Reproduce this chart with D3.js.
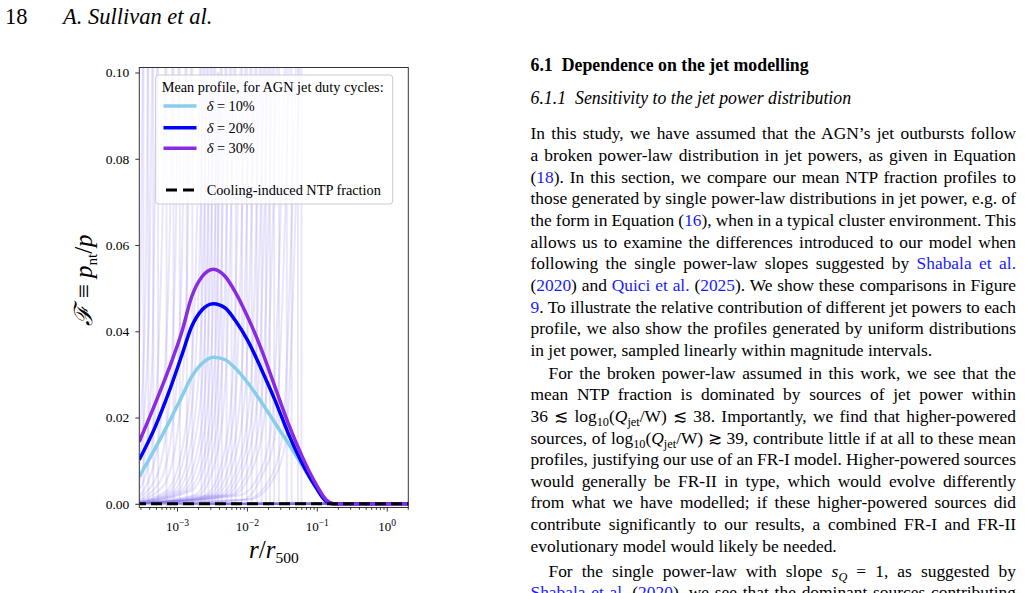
<!DOCTYPE html>
<html>
<head>
<meta charset="utf-8">
<script src="https://cdn.jsdelivr.net/npm/d3@7"></script>
<style>
  body { margin: 0; background: #fff; }
  svg { display: block; }
  text { font-family: "Liberation Serif", "Times New Roman", serif; white-space: pre; }
</style>
</head>
<body>
<svg id="page" width="1025" height="593"></svg>
<script>
// ---- data (x values are log10(r/r500)) ----
const radiusLog = [-3.54, -3.31, -3.12, -2.93, -2.79, -2.64, -2.48, -2.31, -2.17, -1.98, -1.79, -1.60, -1.41, -1.21, -1.02, -0.86, -0.76, 0.31];
const duty10 = [0.0063, 0.0129, 0.0187, 0.0249, 0.0295, 0.0326, 0.0340, 0.0334, 0.0315, 0.0279, 0.0235, 0.0188, 0.0141, 0.0089, 0.0040, 0.0008, 0, 0];
const duty20 = [0.0102, 0.0179, 0.0257, 0.0345, 0.0411, 0.0450, 0.0464, 0.0454, 0.0426, 0.0376, 0.0311, 0.0241, 0.0164, 0.0094, 0.0040, 0.0005, 0, 0];
const duty30 = [0.0144, 0.0233, 0.0311, 0.0399, 0.0480, 0.0527, 0.0544, 0.0527, 0.0492, 0.0430, 0.0357, 0.0272, 0.0187, 0.0110, 0.0048, 0.0008, 0, 0];
const coolingLog = [-3.6, 0.35];
const coolingNTP = [0, 0];

// individual source profiles (faint lines), each ends at its lobe edge
const sourceProfiles = [
  [[-3.6, 0.02], [-3.52, 0.05], [-3.48, 0.12]],
  [[-3.6, 0.008], [-3.5, 0.025], [-3.44, 0.06], [-3.41, 0.12]],
  [[-3.6, 0.005], [-3.5, 0.015], [-3.4, 0.045], [-3.34, 0.12]],
  [[-3.6, 0.003], [-3.45, 0.012], [-3.35, 0.035], [-3.27, 0.12]],
  [[-3.6, 0.002], [-3.4, 0.01], [-3.28, 0.03], [-3.19, 0.08], [-3.15, 0.12]],
  [[-3.6, 0.001], [-3.35, 0.008], [-3.2, 0.025], [-3.1, 0.065], [-3.05, 0.12]],
  [[-3.6, 0.001], [-3.3, 0.006], [-3.12, 0.022], [-3.02, 0.06], [-2.96, 0.12]],
  [[-3.6, 0.0006], [-3.25, 0.005], [-3.05, 0.02], [-2.93, 0.055], [-2.86, 0.12]],
  [[-3.6, 0.0005], [-3.2, 0.004], [-2.98, 0.018], [-2.86, 0.05], [-2.78, 0.12]],
  [[-3.6, 0.0004], [-3.15, 0.003], [-2.9, 0.015], [-2.75, 0.045], [-2.65, 0.12]],
  [[-3.6, 0.0003], [-3.1, 0.003], [-2.85, 0.015], [-2.7, 0.045], [-2.6, 0.12]],
  [[-3.6, 0.0003], [-3.05, 0.003], [-2.8, 0.014], [-2.65, 0.042], [-2.55, 0.12]],
  [[-3.6, 0.0002], [-3.0, 0.003], [-2.75, 0.014], [-2.6, 0.04], [-2.5, 0.12]],
  [[-3.6, 0.0002], [-2.95, 0.003], [-2.7, 0.013], [-2.55, 0.04], [-2.45, 0.12]],
  [[-3.6, 0.0002], [-2.9, 0.003], [-2.65, 0.013], [-2.5, 0.038], [-2.41, 0.10]],
  [[-3.6, 0.0001], [-2.85, 0.003], [-2.6, 0.012], [-2.45, 0.036], [-2.36, 0.12]],
  [[-3.6, 0.0001], [-2.8, 0.003], [-2.55, 0.012], [-2.4, 0.035], [-2.29, 0.12]],
  [[-3.6, 0.0001], [-2.75, 0.002], [-2.5, 0.011], [-2.35, 0.033], [-2.22, 0.12]],
  [[-3.6, 0.0001], [-2.7, 0.002], [-2.45, 0.01], [-2.3, 0.03], [-2.16, 0.12]],
  [[-3.6, 0], [-2.6, 0.002], [-2.35, 0.01], [-2.2, 0.03], [-2.07, 0.12]],
  [[-3.6, 0], [-2.55, 0.002], [-2.3, 0.01], [-2.15, 0.028], [-2.0, 0.12]],
  [[-3.6, 0], [-2.5, 0.002], [-2.25, 0.009], [-2.08, 0.028], [-1.93, 0.12]],
  [[-3.6, 0], [-2.45, 0.002], [-2.2, 0.009], [-2.02, 0.027], [-1.86, 0.12]],
  [[-3.6, 0], [-2.4, 0.002], [-2.15, 0.008], [-1.95, 0.026], [-1.79, 0.12]],
  [[-3.6, 0], [-2.35, 0.002], [-2.1, 0.008], [-1.9, 0.025], [-1.73, 0.12]],
  [[-3.6, 0], [-2.3, 0.002], [-2.05, 0.008], [-1.85, 0.024], [-1.67, 0.12]],
  [[-3.6, 0], [-2.25, 0.002], [-2.0, 0.007], [-1.8, 0.022], [-1.61, 0.12]],
  [[-3.6, 0], [-2.2, 0.002], [-1.95, 0.007], [-1.75, 0.02], [-1.54, 0.12]],
  [[-3.6, 0], [-2.1, 0.002], [-1.85, 0.006], [-1.65, 0.018], [-1.43, 0.12]],
  [[-3.6, 0], [-2.05, 0.001], [-1.8, 0.006], [-1.6, 0.016], [-1.36, 0.12]],
  [[-3.6, 0], [-2.0, 0.001], [-1.7, 0.005], [-1.5, 0.015], [-1.27, 0.12]],
  [[-3.6, 0], [-1.95, 0.001], [-1.65, 0.005], [-1.45, 0.014], [-1.22, 0.12]]
];

const yTicks = [0, 0.02, 0.04, 0.06, 0.08, 0.10];
const xTickExp = [-3, -2, -1, 0];
const legendTitle = "Mean profile, for AGN jet duty cycles:";
const legendLabels = ["10%", "20%", "30%"];
const legendColors = ["#87ceeb", "#0000ff", "#8a2be2"];

// ---- body text of the page (one entry per printed line) ----
const bodyLines = [
  { segs: ["In this study, we have assumed that the AGN\u2019s jet outbursts follow"] },
  { segs: ["a broken power-law distribution in jet powers, as given in Equation"] },
  { segs: ["(", ["a", "18"], "). In this section, we compare our mean NTP fraction profiles to"] },
  { segs: ["those generated by single power-law distributions in jet power, e.g. of"] },
  { segs: ["the form in Equation (", ["a", "16"], "), when in a typical cluster environment. This"] },
  { segs: ["allows us to examine the differences introduced to our model when"] },
  { segs: ["following the single power-law slopes suggested by ", ["a", "Shabala et al."]] },
  { segs: ["(", ["a", "2020"], ") and ", ["a", "Quici et al."], " (", ["a", "2025"], "). We show these comparisons in Figure"] },
  { segs: [["a", "9"], ". To illustrate the relative contribution of different jet powers to each"] },
  { segs: ["profile, we also show the profiles generated by uniform distributions"] },
  { segs: ["in jet power, sampled linearly within magnitude intervals."], last: true },
  { segs: ["For the broken power-law assumed in this work, we see that the"], indent: true },
  { segs: ["mean NTP fraction is dominated by sources of jet power within"] },
  { segs: ["36 \u2272 log", ["sub", "10"], "(", ["it", "Q"], ["sub", "jet"], "/W) \u2272 38. Importantly, we find that higher-powered"] },
  { segs: ["sources, of log", ["sub", "10"], "(", ["it", "Q"], ["sub", "jet"], "/W) \u2273 39, contribute little if at all to these mean"] },
  { segs: ["profiles, justifying our use of an FR-I model. Higher-powered sources"] },
  { segs: ["would generally be FR-II in type, which would evolve differently"] },
  { segs: ["from what we have modelled; if these higher-powered sources did"] },
  { segs: ["contribute significantly to our results, a combined FR-I and FR-II"] },
  { segs: ["evolutionary model would likely be needed."], last: true },
  { segs: ["For the single power-law with slope ", ["it", "s"], ["itsub", "Q"], " = 1, as suggested by"], indent: true },
  { segs: [["a", "Shabala et al."], " (", ["a", "2020"], "), we see that the dominant sources contributing"] }
];
const bodyBaselines = [139.3, 160.9, 182.6, 204.2, 225.9, 247.6, 269.2, 290.9, 312.5, 334.2, 355.8,
  378.5, 400.2, 421.8, 443.5, 465.1, 486.8, 508.4, 530.1, 551.7, 576.5, 598.2];

const page = d3.select("#page");

// ---- running header ----
page.append("text").attr("x", 5).attr("y", 23.5).attr("font-size", 22.5).text("18");
page.append("text").attr("x", 63).attr("y", 23.5).attr("font-size", 22.5).attr("font-style", "italic").text("A. Sullivan et al.");

// ---- chart ----
const frame = { left: 139.3, right: 408.3, top: 67.5, bottom: 507.5 };

const x = d3.scaleLog()
  .domain([Math.pow(10, -3.539), Math.pow(10, 0.3086)])
  .range([frame.left, frame.right]);
const y = d3.scaleLinear()
  .domain([-0.000858, 0.10116])
  .range([frame.bottom, frame.top]);

page.append("clipPath").attr("id", "plotClip")
  .append("rect")
  .attr("x", frame.left).attr("y", frame.top)
  .attr("width", frame.right - frame.left).attr("height", frame.bottom - frame.top);

const plot = page.append("g").attr("clip-path", "url(#plotClip)");

const smooth = d3.line()
  .x(d => x(Math.pow(10, d[0])))
  .y(d => y(d[1]))
  .curve(d3.curveMonotoneX);
const straight = d3.line()
  .x(d => x(Math.pow(10, d[0])))
  .y(d => y(d[1]));

// faint individual profiles
sourceProfiles.forEach(p => {
  const edge = p[p.length - 1];
  plot.append("path")
    .attr("d", smooth(p))
    .attr("fill", "none")
    .attr("stroke", "#7b68ee")
    .attr("stroke-opacity", 0.17)
    .attr("stroke-width", 2);
  plot.append("path")
    .attr("d", straight([edge, [edge[0], 0], [0.35, 0]]))
    .attr("fill", "none")
    .attr("stroke", "#7b68ee")
    .attr("stroke-opacity", 0.17)
    .attr("stroke-width", 2);
});

// mean profiles
[duty10, duty20, duty30].forEach((series, i) => {
  plot.append("path")
    .datum(radiusLog.map((r, j) => [r, series[j]]))
    .attr("d", smooth)
    .attr("fill", "none")
    .attr("stroke", legendColors[i])
    .attr("stroke-width", 3.5)
    .attr("stroke-linejoin", "round");
});

// cooling-induced NTP fraction
plot.append("path")
  .datum(coolingLog.map((r, j) => [r, coolingNTP[j]]))
  .attr("d", straight)
  .attr("fill", "none")
  .attr("stroke", "#000")
  .attr("stroke-width", 3)
  .attr("stroke-dasharray", "11,5");

// axes
const yAxis = page.append("g")
  .attr("transform", `translate(${frame.left},0)`)
  .call(d3.axisLeft(y).tickValues(yTicks).tickFormat(d3.format(".2f")).tickSize(4).tickPadding(6));
yAxis.select(".domain").remove();
yAxis.selectAll(".tick text").attr("font-size", 13.5).attr("font-family", "Liberation Serif, serif").attr("fill", "#000");

const xAxis = page.append("g")
  .attr("transform", `translate(0,${frame.bottom})`)
  .call(d3.axisBottom(x).tickValues(xTickExp.map(e => Math.pow(10, e))).tickSize(4).tickPadding(4).tickFormat(() => ""));
xAxis.select(".domain").remove();
xAxis.selectAll(".tick text")
  .attr("font-size", 13)
  .attr("font-family", "Liberation Serif, serif")
  .attr("fill", "#000")
  .attr("dy", "1.2em")
  .each(function (d, i) {
    const t = d3.select(this);
    t.append("tspan").text("10");
    const e = xTickExp[i];
    t.append("tspan").attr("dy", -5.5).attr("font-size", 9.5).text(e < 0 ? "\u2212" + Math.abs(e) : String(e));
  });

const minorTicks = [];
for (let e = -4; e <= 0; e++) {
  for (let m = 2; m <= 9; m++) {
    const v = m * Math.pow(10, e);
    if (v > x.domain()[0] && v < x.domain()[1]) minorTicks.push(v);
  }
}
const xMinor = page.append("g")
  .attr("transform", `translate(0,${frame.bottom})`)
  .call(d3.axisBottom(x).tickValues(minorTicks).tickSize(2.3).tickFormat(() => ""));
xMinor.select(".domain").remove();
page.selectAll(".tick line").attr("stroke", "#000").attr("stroke-width", 0.8);

// frame
page.append("rect")
  .attr("x", frame.left).attr("y", frame.top)
  .attr("width", frame.right - frame.left).attr("height", frame.bottom - frame.top)
  .attr("fill", "none").attr("stroke", "#333").attr("stroke-width", 1);

// axis labels
const xLabel = page.append("text")
  .attr("x", (frame.left + frame.right) / 2).attr("y", 557.5)
  .attr("text-anchor", "middle").attr("font-size", 25);
xLabel.append("tspan").attr("font-style", "italic").text("r");
xLabel.append("tspan").text("/");
xLabel.append("tspan").attr("font-style", "italic").text("r");
xLabel.append("tspan").attr("font-size", 15.5).attr("dy", 5).text("500");

const yLabel = page.append("text")
  .attr("transform", "translate(92,280) rotate(-90)")
  .attr("text-anchor", "middle").attr("font-size", 25);
yLabel.append("tspan").attr("font-style", "italic").text("\u2131");
yLabel.append("tspan").text(" \u2261 ");
yLabel.append("tspan").attr("font-style", "italic").text("p");
yLabel.append("tspan").attr("font-size", 15).attr("dy", 5).text("nt");
yLabel.append("tspan").attr("dy", -5).text("/");
yLabel.append("tspan").attr("font-style", "italic").text("p");

// legend
const legend = page.append("g");
legend.append("rect")
  .attr("x", 155.7).attr("y", 75).attr("width", 237).attr("height", 129).attr("rx", 3)
  .attr("fill", "#fff").attr("fill-opacity", 0.8)
  .attr("stroke", "#ccc").attr("stroke-width", 1);
legend.append("text").attr("x", 161.7).attr("y", 91.5).attr("font-size", 14.3).text(legendTitle);
const rowY = [106, 127.7, 148.3];
legendLabels.forEach((lab, i) => {
  legend.append("line")
    .attr("x1", 163.5).attr("x2", 196.5).attr("y1", rowY[i]).attr("y2", rowY[i])
    .attr("stroke", legendColors[i]).attr("stroke-width", 3.5);
  const t = legend.append("text").attr("x", 206.7).attr("y", rowY[i] + 4.8).attr("font-size", 14.3);
  t.append("tspan").attr("font-style", "italic").text("\u03b4");
  t.append("tspan").text(" = " + lab);
});
legend.append("line")
  .attr("x1", 166).attr("x2", 196.5).attr("y1", 190).attr("y2", 190)
  .attr("stroke", "#000").attr("stroke-width", 3).attr("stroke-dasharray", "11,6");
legend.append("text").attr("x", 206.7).attr("y", 194.8).attr("font-size", 14.3).text("Cooling-induced NTP fraction");

// ---- right column text ----
const headFs = 17.8, bodyFs = 17.4;
page.append("text").attr("x", 530.5).attr("y", 70.7).attr("font-size", headFs).attr("font-weight", "bold").text("6.1");
page.append("text").attr("x", 561.7).attr("y", 70.7).attr("font-size", headFs).attr("font-weight", "bold").text("Dependence on the jet modelling");
page.append("text").attr("x", 530.5).attr("y", 104).attr("font-size", headFs).attr("font-style", "italic").text("6.1.1");
page.append("text").attr("x", 575).attr("y", 104).attr("font-size", headFs).attr("font-style", "italic").text("Sensitivity to the jet power distribution");

const colLeft = 530.5, colRight = 1016, indent = 18;
bodyLines.forEach((line, n) => {
  const x0 = colLeft + (line.indent ? indent : 0);
  const t = page.append("text").attr("x", x0).attr("y", bodyBaselines[n]).attr("font-size", bodyFs);
  let shift = 0, full = "";
  line.segs.forEach(s => {
    const [kind, str] = typeof s === "string" ? ["", s] : s;
    full += str;
    const ts = t.append("tspan").text(str);
    const isSub = kind === "sub" || kind === "itsub";
    const want = isSub ? 4.5 : 0;
    if (want !== shift) { ts.attr("dy", want - shift); shift = want; }
    if (isSub) ts.attr("font-size", 12.3);
    if (kind === "a") ts.attr("fill", "#1a1aff");
    if (kind === "it" || kind === "itsub") ts.attr("font-style", "italic");
  });
  if (!line.last) {
    const spaces = (full.match(/ /g) || []).length;
    const len = t.node().getComputedTextLength();
    if (spaces > 0) t.attr("word-spacing", (colRight - x0 - len) / spaces);
  }
});
</script>
</body>
</html>
